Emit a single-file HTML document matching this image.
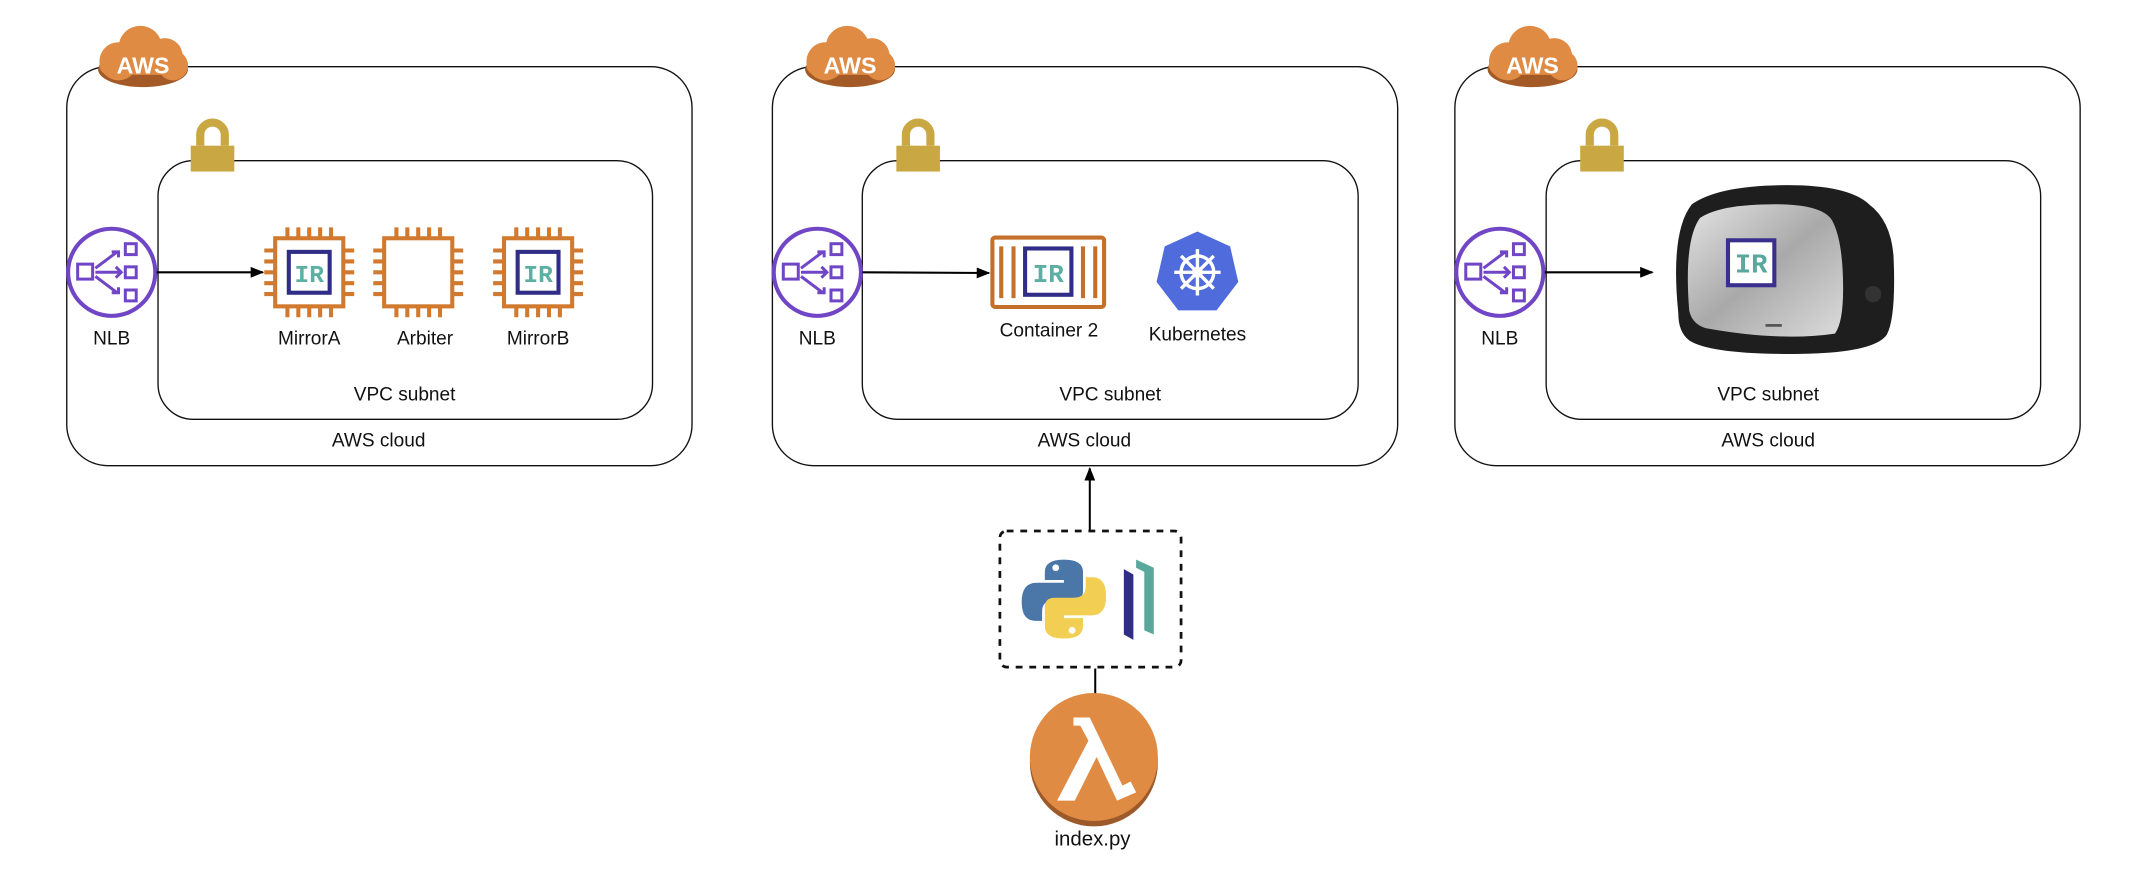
<!DOCTYPE html>
<html><head><meta charset="utf-8"><style>
html,body{margin:0;padding:0;background:#fff;}
svg{display:block;}
text{font-family:"Liberation Sans",sans-serif;fill:#111;}
.ir{font-family:"Liberation Mono",monospace;font-weight:bold;fill:#5cb0a3;}
</style></head><body>
<svg width="2136" height="870" viewBox="0 0 1568 639" preserveAspectRatio="none" xmlns="http://www.w3.org/2000/svg">
<defs>
<g id="cloud">
  <ellipse cx="0" cy="8" rx="33" ry="13" fill="#a35a26"/>
  <circle cx="-18" cy="2" r="14" fill="#e08b44"/>
  <circle cx="-2" cy="-8" r="16" fill="#e08b44"/>
  <circle cx="16" cy="-2" r="13" fill="#e08b44"/>
  <circle cx="22" cy="5" r="11" fill="#e08b44"/>
  <rect x="-32" y="-2" width="65" height="14" rx="7" fill="#e08b44"/>
</g>
<g id="lock">
  <path d="M-9,-2 v-8 a9,9 0 0 1 18,0 v8" fill="none" stroke="#c9a742" stroke-width="6"/>
  <rect x="-16" y="-2" width="32" height="19" fill="#c9a742"/>
</g>
<g id="nlb" fill="none" stroke="#7146c6" stroke-width="2.2">
  <circle cx="0" cy="0" r="32" stroke-width="3"/>
  <rect x="-25" y="-6" width="11" height="11"/>
  <rect x="10" y="-21" width="8" height="8"/><rect x="10" y="-4" width="8" height="8"/><rect x="10" y="13" width="8" height="8"/>
  <path d="M-12,0 h19 M3,-4 l4,4 l-4,4 M-12,-3 l16,-12 M0,-15 h5 v4 M-12,3 l16,12 M0,15 h5 v-4"/>
</g>
<g id="chip" fill="none" stroke="#d17a2f" stroke-width="3">
  <rect x="-25" y="-25" width="50" height="50"/>
  <path d="M-16,-25v-8M-8,-25v-8M0,-25v-8M8,-25v-8M16,-25v-8 M-16,25v8M-8,25v8M0,25v8M8,25v8M16,25v8 M-25,-16h-8M-25,-8h-8M-25,0h-8M-25,8h-8M-25,16h-8 M25,-16h8M25,-8h8M25,0h8M25,8h8M25,16h8"/>
</g>
<rect id="irbox" x="-15" y="-15" width="30" height="30" fill="#fff" stroke="#2f2d86" stroke-width="3"/>
<marker id="ah" markerWidth="10" markerHeight="8" refX="9" refY="4" orient="auto" markerUnits="userSpaceOnUse"><path d="M0,0 L10,4 L0,8z" fill="#000"/></marker>
<linearGradient id="silver" x1="0" y1="0" x2="1" y2="1"><stop offset="0" stop-color="#e4e4e4"/><stop offset="0.5" stop-color="#a9a9a9"/><stop offset="1" stop-color="#dcdcdc"/></linearGradient>
</defs>

<!-- Box 1 -->
<rect x="49" y="49" width="459" height="293" rx="30" fill="none" stroke="#111" stroke-width="1"/>
<rect x="116" y="118" width="363" height="190" rx="26" fill="none" stroke="#111" stroke-width="1"/>
<use href="#cloud" x="105" y="43"/><text x="105" y="54" text-anchor="middle" style="fill:#fff;font-size:17px;font-weight:bold">AWS</text>
<use href="#lock" x="156" y="109"/>
<use href="#nlb" x="82" y="200"/>
<text x="82" y="253" text-anchor="middle" font-size="14">NLB</text>
<line x1="115" y1="200" x2="193" y2="200" stroke="#000" stroke-width="1.5" marker-end="url(#ah)"/>
<use href="#chip" x="227" y="200"/><use href="#irbox" x="227" y="200"/><text class="ir" x="227" y="207" text-anchor="middle" font-size="18">IR</text>
<use href="#chip" x="307" y="200"/>
<use href="#chip" x="395" y="200"/><use href="#irbox" x="395" y="200"/><text class="ir" x="395" y="207" text-anchor="middle" font-size="18">IR</text>
<text x="227" y="253" text-anchor="middle" font-size="14">MirrorA</text>
<text x="312" y="253" text-anchor="middle" font-size="14">Arbiter</text>
<text x="395" y="253" text-anchor="middle" font-size="14">MirrorB</text>
<text x="297" y="294" text-anchor="middle" font-size="14">VPC subnet</text>
<text x="278" y="328" text-anchor="middle" font-size="14">AWS cloud</text>

<!-- Box 2 -->
<rect x="567" y="49" width="459" height="293" rx="30" fill="none" stroke="#111" stroke-width="1"/>
<rect x="633" y="118" width="364" height="190" rx="26" fill="none" stroke="#111" stroke-width="1"/>
<use href="#cloud" x="624" y="43"/><text x="624" y="54" text-anchor="middle" style="fill:#fff;font-size:17px;font-weight:bold">AWS</text>
<use href="#lock" x="674" y="109"/>
<use href="#nlb" x="600" y="200"/>
<text x="600" y="253" text-anchor="middle" font-size="14">NLB</text>
<line x1="633" y1="200" x2="726" y2="200.5" stroke="#000" stroke-width="1.5" marker-end="url(#ah)"/>
<rect x="728.5" y="174.5" width="82" height="51" rx="2" fill="#fff" stroke="#c46f2a" stroke-width="3"/>
<path d="M735,181v38 M744,181v38 M795,181v38 M804,181v38" stroke="#c46f2a" stroke-width="3"/>
<rect x="752.5" y="182.5" width="34" height="34" fill="#fff" stroke="#2f2d86" stroke-width="3"/>
<text class="ir" x="769.5" y="207" text-anchor="middle" font-size="19">IR</text>
<text x="770" y="247" text-anchor="middle" font-size="14">Container 2</text>
<polygon points="879,170 903,181 909,207 893,228 865,228 849,207 855,181" fill="#4f6bdc"/>
<g stroke="#fff" stroke-width="2.5" fill="none"><circle cx="879" cy="200" r="12"/>
<path d="M879,183v34M862,200h34M867,188l24,24M891,188l-24,24"/></g>
<circle cx="879" cy="200" r="4" fill="#fff"/>
<text x="879" y="250" text-anchor="middle" font-size="14">Kubernetes</text>
<text x="815" y="294" text-anchor="middle" font-size="14">VPC subnet</text>
<text x="796" y="328" text-anchor="middle" font-size="14">AWS cloud</text>

<!-- Box 3 -->
<rect x="1068" y="49" width="459" height="293" rx="30" fill="none" stroke="#111" stroke-width="1"/>
<rect x="1135" y="118" width="363" height="190" rx="26" fill="none" stroke="#111" stroke-width="1"/>
<use href="#cloud" x="1125" y="43"/><text x="1125" y="54" text-anchor="middle" style="fill:#fff;font-size:17px;font-weight:bold">AWS</text>
<use href="#lock" x="1176" y="109"/>
<use href="#nlb" x="1101" y="200"/>
<text x="1101" y="253" text-anchor="middle" font-size="14">NLB</text>
<line x1="1134" y1="200" x2="1213" y2="200" stroke="#000" stroke-width="1.5" marker-end="url(#ah)"/>
<!-- toaster -->
<path d="M1232,230 q-6,-60 10,-80 q20,-14 70,-14 q45,0 60,14 q16,12 18,38 q2,45 -5,58 q-10,14 -70,14 q-60,0 -75,-10 q-8,-6 -8,-20z" fill="#1e1e1e"/>
<path d="M1240,228 q-4,-52 8,-68 q15,-10 55,-10 q35,0 42,12 q8,15 8,50 q0,25 -6,33 q-40,6 -95,-4 q-10,-3 -12,-13z" fill="url(#silver)"/>
<rect x="1296" y="238" width="12" height="2" fill="#555"/>
<circle cx="1375" cy="216" r="6" fill="#333"/>
<rect x="1268.5" y="176.5" width="34" height="33" fill="#fff" stroke="#3b2f8e" stroke-width="3"/>
<text class="ir" x="1285.5" y="200" text-anchor="middle" font-size="20" style="fill:#5aa89c">IR</text>
<text x="1298" y="294" text-anchor="middle" font-size="14">VPC subnet</text>
<text x="1298" y="328" text-anchor="middle" font-size="14">AWS cloud</text>

<!-- bottom -->
<line x1="800" y1="390" x2="800" y2="344" stroke="#000" stroke-width="1.5" marker-end="url(#ah)"/>
<rect x="734" y="390" width="133" height="100" rx="5" fill="none" stroke="#111" stroke-width="2" stroke-dasharray="5,5"/>
<path d="M781,411 q-14,0 -14,9 v6 h14 v2 h-20 q-11,0 -11,14 q0,14 10,14 h5 v-7 q0,-8 9,-8 h14 q7,0 7,-7 v-14 q0,-9 -14,-9z" fill="#4a76a8"/>
<path d="M781,469 q14,0 14,-9 v-6 h-14 v-2 h20 q11,0 11,-14 q0,-14 -10,-14 h-5 v7 q0,8 -9,8 h-14 q-7,0 -7,7 v14 q0,9 14,9z" fill="#f2cf52"/>
<circle cx="775" cy="417" r="2.5" fill="#fff"/><circle cx="787" cy="463" r="2.5" fill="#fff"/>
<polygon points="825,418 832,422 832,470 825,466" fill="#2f2d86"/>
<polygon points="834,411 847,417 847,466 840,463 840,420 834,417" fill="#5aa89c"/>
<line x1="804" y1="491" x2="804" y2="510" stroke="#000" stroke-width="1.5"/>
<circle cx="803" cy="560" r="47" fill="#9c5a2a"/>
<circle cx="803" cy="556" r="47" fill="#e08b44"/>
<path d="M788,527 h12 l24,50 l6,-3 l4,8 l-14,6 l-15,-32 l-16,32 h-13 l23,-44 l-6,-11 h-5z" fill="#fff"/>
<text x="802" y="621" text-anchor="middle" font-size="15">index.py</text>
</svg>
</body></html>
